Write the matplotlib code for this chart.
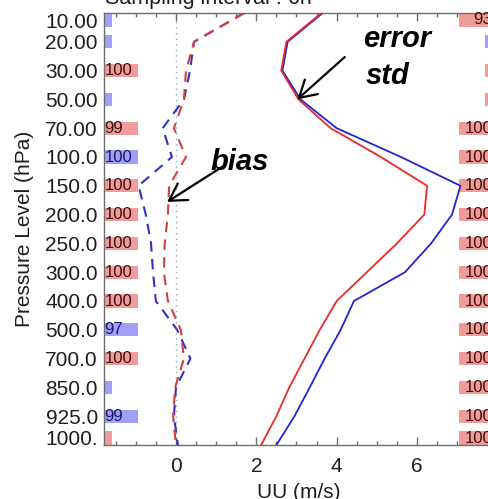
import matplotlib
matplotlib.use("Agg")
import matplotlib.pyplot as plt
from matplotlib.ticker import MultipleLocator
import numpy as np

plt.rcParams['font.family'] = ['Liberation Sans', 'DejaVu Sans']

# Pressure levels (top to bottom)
levels = ['10.00', '20.00', '30.00', '50.00', '70.00', '100.0', '150.0', '200.0',
          '250.0', '300.0', '400.0', '500.0', '700.0', '850.0', '925.0', '1000.']

# Error standard deviation of UU (m/s)
std_red = [3.62, 2.75, 2.62, 3.05, 3.85, 5.1, 6.25, 6.18, 5.5, 4.75, 4.0, 3.58, 3.2, 2.82, 2.5, 2.12]
std_blue = [3.65, 2.78, 2.65, 3.1, 4.0, 5.6, 7.08, 6.87, 6.35, 5.7, 4.43, 4.1, 3.7, 3.33, 2.95, 2.5]

# Bias of UU (m/s)
bias_red = [1.7, 0.45, 0.25, 0.2, -0.05, 0.25, -0.17, -0.2, -0.28, -0.3, -0.2, 0.12, 0.2, -0.02, -0.07, 0.0]
bias_blue = [1.7, 0.45, 0.35, 0.2, -0.33, -0.1, -0.93, -0.75, -0.62, -0.57, -0.5, 0.03, 0.36, 0.0, -0.05, 0.05]

# Side bars: which experiment wins at each level, and its percentage
left_winner = ['b', 'b', 'r', 'b', 'r', 'b', 'r', 'r', 'r', 'r', 'r', 'b', 'r', 'b', 'b', 'r']
left_pct = ['', '', '100', '', '99', '100', '100', '100', '100', '100', '100', '97', '100', '', '99', '']
right_winner = ['r', 'b', 'r', 'r', 'r', 'r', 'r', 'r', 'r', 'r', 'r', 'r', 'r', 'r', 'r', 'r']
right_pct = ['93', '', '', '', '100', '100', '100', '100', '100', '100', '100', '100', '100', '100', '100', '100']

RED = '#e82a2a'
BLUE = '#2323d2'
RED_D = '#d04040'
BLUE_D = '#3030c8'
BAR_RED = '#f29b9b'
BAR_BLUE = '#a0a0f6'
SPINE = '#6e6e6e'
TXT = '#1e1e1e'

fig = plt.figure(figsize=(4.89, 4.99), dpi=100)
ax = fig.add_axes([104 / 489, 54 / 499, 389 / 489, 432 / 499])

xmin, xmax = -1.79, 7.89
ax.set_xlim(xmin, xmax)
ax.set_ylim(15, 0)

y = np.arange(len(levels))

# zero reference
ax.axvline(0, color='#8aacac', lw=1.0, ls=(0, (1, 3)), zorder=1)

# bias (dashed)
ax.plot(bias_blue, y, color=BLUE_D, lw=1.5, ls=(0, (5, 3.5)), zorder=3)
ax.plot(bias_red, y, color=RED_D, lw=1.5, ls=(0, (5, 3.5)), zorder=3)

# error std (solid)
ax.plot(std_blue, y, color=BLUE, lw=1.3, zorder=3)
ax.plot(std_red, y, color=RED, lw=1.3, zorder=3)

# side bars
row_c = y.astype(float)
row_c[0] += 0.24
row_c[-1] -= 0.24
bar_h = 0.46
full_w = 0.85
short_w = 0.2
for i in range(len(levels)):
    col = BAR_RED if left_winner[i] == 'r' else BAR_BLUE
    w = full_w if left_pct[i] else short_w
    ax.barh(row_c[i], w, height=bar_h, left=xmin, color=col, zorder=2)
    if left_pct[i]:
        tc = '#3a1010' if left_winner[i] == 'r' else '#1a1a66'
        ax.text(xmin + 0.01, row_c[i], left_pct[i], fontsize=12, color=tc,
                ha='left', va='center', zorder=4)
    col = BAR_RED if right_winner[i] == 'r' else BAR_BLUE
    w = full_w if right_pct[i] else short_w
    ax.barh(row_c[i], w, height=bar_h, left=xmax - w, color=col, zorder=2)
    if right_pct[i]:
        ax.text(xmax - 0.02, row_c[i], right_pct[i], fontsize=12, color='#3a1010',
                ha='right', va='center', zorder=4)

# level labels
ytr = ax.get_yaxis_transform()
for i, lab in enumerate(levels):
    va = 'center_baseline'
    if i == 0:
        va = 'top'
    elif i == len(levels) - 1:
        va = 'baseline'
    ax.text(-0.016, i, lab, transform=ytr, ha='right', va=va, fontsize=15, color=TXT)
ax.set_yticks([])

ax.xaxis.set_major_locator(MultipleLocator(2))
ax.xaxis.set_minor_locator(MultipleLocator(0.5))
ax.tick_params(axis='x', which='both', direction='in', top=True, colors=SPINE,
               labelcolor=TXT, labelsize=15, pad=9)
ax.tick_params(axis='x', which='major', length=6, width=1)
ax.tick_params(axis='x', which='minor', length=3, width=1)
for s in ax.spines.values():
    s.set_color(SPINE)
    s.set_linewidth(1)

ax.set_xlabel('UU (m/s)', fontsize=15, color=TXT, labelpad=5)
ax.set_ylabel('Pressure Level (hPa)', fontsize=15, color=TXT, labelpad=0)
ax.yaxis.set_label_coords(-0.18, 0.5)

# annotations
ax.text(4.65, 1.18, 'error', fontsize=21, fontweight='bold', fontstyle='italic', ha='left', va='baseline')
ax.text(4.72, 2.47, 'std', fontsize=21, fontweight='bold', fontstyle='italic', ha='left', va='baseline')
ax.annotate('', xy=(3.02, 3.0), xytext=(4.2, 1.53),
            arrowprops=dict(arrowstyle='->,head_length=0.6,head_width=0.35', lw=1.6, color='black',
                            mutation_scale=20, shrinkA=0, shrinkB=0))
ax.text(0.85, 5.45, 'bias', fontsize=21, fontweight='bold', fontstyle='italic', ha='left', va='baseline')
ax.annotate('', xy=(-0.22, 6.56), xytext=(1.22, 5.28),
            arrowprops=dict(arrowstyle='->,head_length=0.6,head_width=0.35', lw=1.6, color='black',
                            mutation_scale=20, shrinkA=0, shrinkB=0))

fig.text(105 / 489, 1 - 4 / 499, 'Sampling interval : 6h', fontsize=15.5, ha='left',
         va='baseline', color=TXT)

fig.savefig('out.png', dpi=100)
